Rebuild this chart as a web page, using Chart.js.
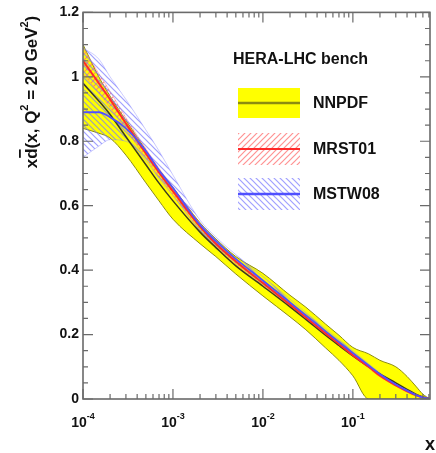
<!DOCTYPE html>
<html>
<head>
<meta charset="utf-8">
<script src="https://cdn.jsdelivr.net/npm/chart.js@4/dist/chart.umd.min.js"></script>
<style>
html,body{margin:0;padding:0;background:#fff;}
#wrap{width:436px;height:453px;}
</style>
</head>
<body>
<div id="wrap"><canvas id="c" width="436" height="453"></canvas></div>
<script>
// ---- data ----
const xs = [1e-4,1.5e-4,2e-4,3e-4,5e-4,7e-4,1e-3,2e-3,3e-3,5e-3,1e-2,2e-2,3e-2,5e-2,7e-2,0.1,0.15,0.2,0.3,0.4,0.5,0.6,0.72];
const nnpdfCentral = [0.98,0.925,0.883,0.814,0.727,0.67,0.615,0.518,0.47,0.413,0.35,0.286,0.247,0.197,0.166,0.134,0.1,0.078,0.05,0.03,0.015,0.006,0];
const nnpdfUpper   = [1.1,1.0,0.94,0.865,0.772,0.712,0.657,0.547,0.497,0.442,0.39,0.322,0.285,0.232,0.198,0.16,0.14,0.12,0.1,0.07,0.04,0.015,0];
const nnpdfLower   = [0.84,0.825,0.81,0.757,0.671,0.615,0.558,0.482,0.442,0.388,0.32,0.255,0.215,0.158,0.12,0.072,0,0,0,0,0,0,0];
const mrstCentral  = [1.05,0.98,0.93,0.855,0.762,0.703,0.645,0.535,0.482,0.427,0.36,0.293,0.253,0.203,0.171,0.136,0.1,0.072,0.042,0.024,0.012,0.005,0];
const mrstUpper    = [1.09,1.01,0.955,0.873,0.777,0.716,0.657,0.545,0.491,0.435,0.367,0.299,0.259,0.208,0.176,0.14,0.104,0.075,0.044,0.026,0.013,0.006,0];
const mrstLower    = [1.01,0.95,0.905,0.837,0.747,0.69,0.633,0.525,0.473,0.419,0.353,0.287,0.247,0.198,0.166,0.132,0.096,0.069,0.04,0.022,0.011,0.004,0];
const mstwCentral  = [0.89,0.89,0.875,0.84,0.77,0.71,0.655,0.54,0.49,0.435,0.368,0.3,0.26,0.21,0.177,0.143,0.104,0.077,0.045,0.026,0.013,0.005,0];
const mstwUpper    = [1.09,1.055,1.0,0.93,0.835,0.77,0.695,0.555,0.503,0.448,0.38,0.31,0.268,0.217,0.184,0.15,0.109,0.081,0.047,0.028,0.014,0.006,0];
const mstwLower    = [0.75,0.785,0.805,0.8,0.74,0.685,0.632,0.523,0.476,0.423,0.356,0.29,0.252,0.203,0.171,0.138,0.1,0.074,0.043,0.024,0.012,0.004,0];
const seriesNames  = ['NNPDF','MRST01','MSTW08'];
const legendTitle  = 'HERA-LHC bench';
const yTickValues  = [0,0.2,0.4,0.6,0.8,1,1.2];
const yTickLabels  = ['0','0.2','0.4','0.6','0.8','1','1.2'];
const xTickValues  = [1e-4,1e-3,1e-2,1e-1];
const xTickExps    = ['-4','-3','-2','-1'];
const xTitle = 'x';

// ---- helpers ----
const pts = arr => xs.map((x,i)=>({x:x,y:arr[i]}));
const FONT = '"Liberation Sans", Arial, Helvetica, sans-serif';
function hatch(color, dir){
  const c=document.createElement('canvas'); c.width=6; c.height=6;
  const g=c.getContext('2d'); g.strokeStyle=color; g.lineWidth=1.2; g.beginPath();
  if(dir>0){ g.moveTo(-1,7); g.lineTo(7,-1); g.moveTo(-4,4); g.lineTo(4,-4); g.moveTo(2,10); g.lineTo(10,2); }
  else { g.moveTo(-1,-1); g.lineTo(7,7); g.moveTo(-4,2); g.lineTo(4,10); g.moveTo(2,-4); g.lineTo(10,4); }
  g.stroke();
  return g.createPattern(c,'repeat');
}
const redHatch = hatch('rgba(255,110,110,0.75)',1);
const blueHatch = hatch('rgba(120,120,255,0.7)',-1);
const YELLOW='#ffff00', OLIVE='#8c8c10', RED='#ff2a2a', BLUE='#5050ff', DARK='#3a3a22';

const framePlugin = {
  id:'frame',
  afterDraw(chart){
    const ctx=chart.ctx, a=chart.chartArea, xS=chart.scales.x, yS=chart.scales.y;
    ctx.save();
    ctx.strokeStyle='#6a6a6a'; ctx.lineWidth=1.6;
    ctx.strokeRect(a.left,a.top,a.right-a.left,a.bottom-a.top);
    ctx.lineWidth=1.2;
    ctx.beginPath();
    for(let e=-4;e<=0;e++){
      for(let k=1;k<=9;k++){
        const v=k*Math.pow(10,e);
        if(v<xS.min*0.999||v>xS.max*1.001) continue;
        const px=xS.getPixelForValue(v), L=(k===1)?10:5;
        ctx.moveTo(px,a.bottom); ctx.lineTo(px,a.bottom-L);
        ctx.moveTo(px,a.top); ctx.lineTo(px,a.top+L);
      }
    }
    for(let i=0;i<=24;i++){
      const v=i*0.05, py=yS.getPixelForValue(v), L=(i%4===0)?10:5;
      ctx.moveTo(a.left,py); ctx.lineTo(a.left+L,py);
      ctx.moveTo(a.right,py); ctx.lineTo(a.right-L,py);
    }
    ctx.stroke();

    // x tick labels with superscripts
    ctx.fillStyle='#111';
    ctx.textBaseline='alphabetic';
    xTickValues.forEach((v,i)=>{
      const px=xS.getPixelForValue(v);
      ctx.font='bold 14px '+FONT; const w1=ctx.measureText('10').width;
      ctx.font='bold 9px '+FONT; const w2=ctx.measureText(xTickExps[i]).width;
      const x0=px-(w1+w2)/2;
      ctx.font='bold 14px '+FONT; ctx.textAlign='left'; ctx.fillText('10',x0,427);
      ctx.font='bold 9px '+FONT; ctx.fillText(xTickExps[i],x0+w1,419);
    });
    ctx.font='bold 18px '+FONT; ctx.textAlign='left';
    ctx.fillText(xTitle,425,450);

    // y title (rotated)
    ctx.translate(31,92); ctx.rotate(-Math.PI/2);
    const big='bold 17px '+FONT, sm='bold 11px '+FONT;
    const parts=[['x',big,0],['d',big,0],['(x, Q',big,0],['2',sm,-7],[' = 20 GeV',big,0],['2',sm,-7],[')',big,0]];
    let tot=0; parts.forEach(p=>{ctx.font=p[1]; p.w=ctx.measureText(p[0]).width; tot+=p.w;});
    let cx=-tot/2; ctx.textBaseline='middle';
    parts.forEach((p,i)=>{
      ctx.font=p[1]; ctx.fillText(p[0],cx,p[2]+1);
      if(i===1){ ctx.fillRect(cx+1,-12,p.w-2,1.8); }
      cx+=p.w;
    });
    ctx.setTransform(1,0,0,1,0,0);

    // legend
    ctx.textBaseline='middle'; ctx.textAlign='left';
    ctx.font='bold 16px '+FONT; ctx.fillText(legendTitle,233,60);
    const boxes=[[88,118,YELLOW,OLIVE,2.5],[133,165,redHatch,RED,2],[178,210,blueHatch,BLUE,2.5]];
    boxes.forEach((b,i)=>{
      ctx.fillStyle=b[2]; ctx.fillRect(238,b[0],62,b[1]-b[0]);
      const ym=(b[0]+b[1])/2;
      ctx.strokeStyle=b[3]; ctx.lineWidth=b[4];
      ctx.beginPath(); ctx.moveTo(238,ym); ctx.lineTo(300,ym); ctx.stroke();
      ctx.fillStyle='#111'; ctx.font='bold 16px '+FONT;
      ctx.fillText(seriesNames[i],313,ym+1);
    });
    ctx.restore();
  }
};

const common={pointRadius:0,cubicInterpolationMode:'monotone'};
new Chart(document.getElementById('c'),{
  type:'line',
  data:{datasets:[
    Object.assign({data:pts(nnpdfUpper),fill:'+1',backgroundColor:YELLOW,borderColor:OLIVE,borderWidth:1,order:10},common),
    Object.assign({data:pts(nnpdfLower),fill:false,borderColor:OLIVE,borderWidth:1,order:9},common),
    Object.assign({data:pts(mrstUpper),fill:'+1',backgroundColor:redHatch,borderColor:'rgba(255,120,120,0.6)',borderWidth:0.8,order:8},common),
    Object.assign({data:pts(mrstLower),fill:false,borderColor:'rgba(255,120,120,0.6)',borderWidth:0.8,order:7},common),
    Object.assign({data:pts(mstwUpper),fill:'+1',backgroundColor:blueHatch,borderColor:'rgba(130,130,255,0.5)',borderWidth:0.8,order:6},common),
    Object.assign({data:pts(mstwLower),fill:false,borderColor:'rgba(130,130,255,0.5)',borderWidth:0.8,order:5},common),
    Object.assign({data:pts(nnpdfCentral),fill:false,borderColor:DARK,borderWidth:1.5,order:3},common),
    Object.assign({data:pts(mrstCentral),fill:false,borderColor:RED,borderWidth:2,order:2},common),
    Object.assign({data:pts(mstwCentral),fill:false,borderColor:BLUE,borderWidth:1.8,order:1},common)
  ]},
  options:{
    responsive:false, animation:false, devicePixelRatio:1,
    layout:{padding:{top:12,right:6,left:0,bottom:0}},
    plugins:{legend:{display:false},tooltip:{enabled:false},title:{display:false}},
    scales:{
      x:{type:'logarithmic',min:1e-4,max:0.72,
         grid:{display:false},border:{display:false},
         ticks:{display:false},
         afterFit(s){s.height=54;}},
      y:{type:'linear',min:0,max:1.2,
         grid:{display:false,drawTicks:false},border:{display:false},
         afterBuildTicks(s){s.ticks=yTickValues.map(v=>({value:v}));},
         ticks:{padding:4,color:'#111',font:{family:FONT,size:14,weight:'bold'},
                callback:(v)=>{const i=yTickValues.findIndex(t=>Math.abs(t-v)<1e-9);return i>=0?yTickLabels[i]:'';}},
         afterFit(s){s.width=83;}}
    }
  },
  plugins:[framePlugin]
});
</script>
</body>
</html>
